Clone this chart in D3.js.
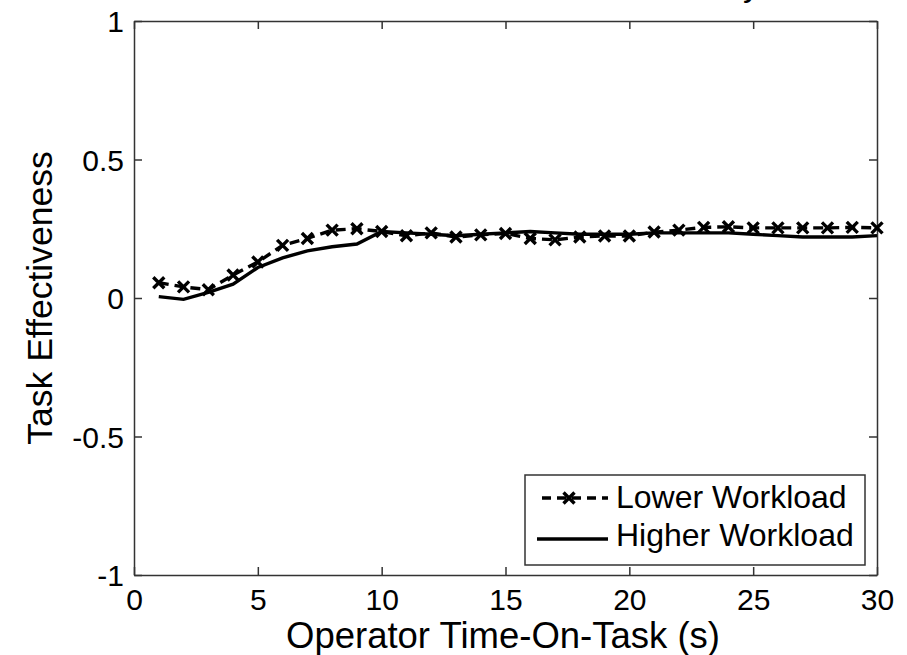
<!DOCTYPE html>
<html><head><meta charset="utf-8">
<script src="https://cdn.jsdelivr.net/npm/d3@7"></script>
<style>body{margin:0;background:#fff}svg{display:block}</style>
</head><body>
<svg id="c" width="907" height="655"></svg>
<script>
const timeOnTask = [1,2,3,4,5,6,7,8,9,10,11,12,13,14,15,16,17,18,19,20,21,22,23,24,25,26,27,28,29,30];
const lowerWorkload = [0.055,0.04,0.03,0.083,0.13,0.19,0.215,0.245,0.25,0.24,0.225,0.235,0.22,0.228,0.233,0.215,0.21,0.22,0.224,0.224,0.238,0.245,0.255,0.257,0.253,0.253,0.253,0.253,0.255,0.253];
const higherWorkload = [0.005,-0.005,0.02,0.05,0.11,0.145,0.17,0.185,0.195,0.24,0.235,0.23,0.225,0.23,0.235,0.24,0.235,0.23,0.23,0.23,0.235,0.235,0.235,0.235,0.23,0.225,0.22,0.22,0.22,0.225];
const xTicks = [0,5,10,15,20,25,30];
const yTicks = [-1,-0.5,0,0.5,1];
const seriesNames = ["Lower Workload","Higher Workload"];

const svg = d3.select("#c");
const font = "Liberation Sans, Arial, sans-serif";
const x = d3.scaleLinear().domain([0,30]).range([134,877]);
const y = d3.scaleLinear().domain([-1,1]).range([575,21]);

// title (mostly above the visible area, as in the reference)
svg.append("text").attr("x",760).attr("y",-4).attr("text-anchor","end")
  .attr("font-family",font).attr("font-size",34)
  .text("Task Effectiveness over Time by");

// axes
const axB = svg.append("g").attr("transform","translate(0,575)")
  .call(d3.axisBottom(x).tickValues(xTicks).tickSizeInner(-8).tickSizeOuter(0).tickPadding(14));
const axT = svg.append("g").attr("transform","translate(0,21)")
  .call(d3.axisTop(x).tickValues(xTicks).tickSizeInner(-8).tickSizeOuter(0).tickFormat(""));
const axL = svg.append("g").attr("transform","translate(134,0)")
  .call(d3.axisLeft(y).tickValues(yTicks).tickSizeInner(-8).tickSizeOuter(0).tickPadding(10).tickFormat(d=>d===0?"0":String(d)));
const axR = svg.append("g").attr("transform","translate(877,0)")
  .call(d3.axisRight(y).tickValues(yTicks).tickSizeInner(-8).tickSizeOuter(0).tickFormat(""));
[axB,axT,axL,axR].forEach(a=>{
  a.selectAll("path").attr("stroke","#333").attr("stroke-width",1.5);
  a.selectAll("line").attr("stroke","#333").attr("stroke-width",1.5);
  a.selectAll("text").attr("font-family",font).attr("font-size",30).attr("fill","#000");
});
axB.selectAll("text").attr("dy","0.71em");
axL.selectAll("text").attr("dy","0.35em");

// axis labels
svg.append("text").attr("x",503).attr("y",648).attr("text-anchor","middle")
  .attr("font-family",font).attr("font-size",36.5).text("Operator Time-On-Task (s)");
svg.append("text").attr("transform","translate(52,298) rotate(-90)").attr("text-anchor","middle")
  .attr("font-family",font).attr("font-size",35.5).text("Task Effectiveness");

const g = svg.append("g");
const line = d3.line().x(d=>x(d[0])).y(d=>y(d[1]));
const lowData = timeOnTask.map((t,i)=>[t,lowerWorkload[i]]);
const highData = timeOnTask.map((t,i)=>[t,higherWorkload[i]]);

g.append("path").datum(highData).attr("d",line).attr("fill","none")
  .attr("stroke","#000").attr("stroke-width",3.4);
g.append("path").datum(lowData).attr("d",line).attr("fill","none")
  .attr("stroke","#000").attr("stroke-width",3.4).attr("stroke-dasharray","10,6");

const ms = 5.5;
function xMark(sel){
  sel.append("path").attr("d",`M${-ms},${-ms}L${ms},${ms}M${-ms},${ms}L${ms},${-ms}`)
    .attr("stroke","#000").attr("stroke-width",3.4).attr("fill","none");
}
g.selectAll("g.mk").data(lowData).join("g").attr("class","mk")
  .attr("transform",d=>`translate(${x(d[0])},${y(d[1])})`).call(xMark);

// legend
const lg = svg.append("g");
lg.append("rect").attr("x",525).attr("y",475).attr("width",340).attr("height",90)
  .attr("fill","#fff").attr("stroke","#333").attr("stroke-width",1.5);
lg.append("line").attr("x1",542).attr("x2",608).attr("y1",498).attr("y2",498)
  .attr("stroke","#000").attr("stroke-width",3.4).attr("stroke-dasharray","9,6");
lg.append("g").attr("transform","translate(569,498)").call(xMark);
lg.append("line").attr("x1",537).attr("x2",608).attr("y1",539).attr("y2",539)
  .attr("stroke","#000").attr("stroke-width",3.4);
seriesNames.forEach((n,i)=>{
  lg.append("text").attr("x",616).attr("y",508+i*38).attr("font-family",font)
    .attr("font-size",32).text(n);
});
</script>
</body></html>
